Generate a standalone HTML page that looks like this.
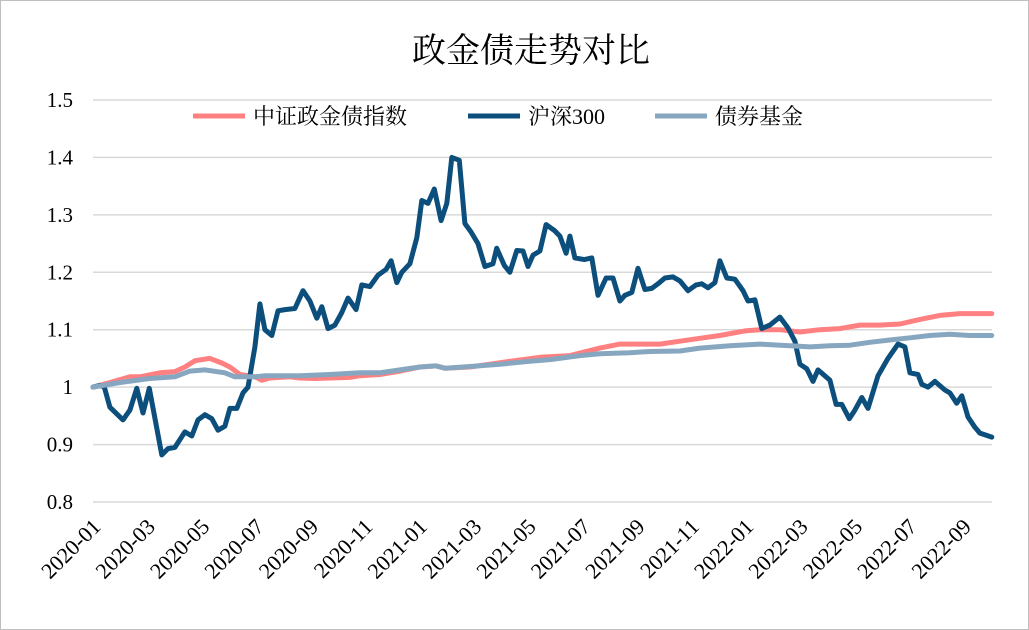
<!DOCTYPE html>
<html><head><meta charset="utf-8"><style>
html,body{margin:0;padding:0;background:#fff}
svg{display:block;font-family:"Liberation Serif","Noto Serif CJK SC",serif}
</style></head><body>
<svg id="c" width="1029" height="630">
<rect x="0.5" y="0.5" width="1028" height="629" fill="#fff" stroke="#bfbfbf"/>
<text x="531" y="62" font-size="34" text-anchor="middle">政金债走势对比</text>
<g id="grid"></g><g id="yt"></g><g id="xt"></g><g id="lines"></g>
<g>
<g><line x1="193" y1="116" x2="245" y2="116" stroke="#ff8080" stroke-width="5"/><text x="253" y="124" font-size="22">中证政金债指数</text></g>
<g><line x1="468" y1="116" x2="520" y2="116" stroke="#0d4f7c" stroke-width="5"/><text x="528" y="124" font-size="22">沪深300</text></g>
<g><line x1="655" y1="116" x2="707" y2="116" stroke="#87a7c0" stroke-width="5"/><text x="715" y="124" font-size="22">债券基金</text></g>
</g>
</svg>
<script>
const yTicks=[0.8,0.9,1,1.1,1.2,1.3,1.4,1.5];
const yTickLabels=["0.8","0.9","1","1.1","1.2","1.3","1.4","1.5"];
const xTickMonths=[0,2,4,6,8,10,12,14,16,18,20,22,24,26,28,30,32];
const xTickLabels=["2020-01","2020-03","2020-05","2020-07","2020-09","2020-11","2021-01","2021-03","2021-05","2021-07","2021-09","2021-11","2022-01","2022-03","2022-05","2022-07","2022-09"];
const csiWeeks=[0,1.1,1.8,2.7,4.8,5.9,7.0,8.0,9.0,11.0,12.0,13.1,14.7,15.8,16.8,17.9,19.0,20.0,21.1,21.9,23.0,24.0,24.8,25.9,26.7,27.5,28.6,29.6,30.7,32.3,33.6,34.7,35.8,36.6,37.6,38.7,39.8,40.8,42.1,43.0,44.3,45.6,46.9,47.7,48.6,49.4,50.7,51.8,52.6,53.6,54.6,55.7,56.6,57.4,58.6,59.5,60.5,61.6,62.7,64.0,64.6,65.8,66.7,67.8,68.8,69.6,70.4,71.5,72.5,73.8,74.7,75.7,76.3,77.1,78.6,79.8,80.8,82.1,83.2,84.3,85.1,86.2,87.2,88.3,89.4,90.4,91.5,92.8,93.9,95.2,96.5,97.4,98.4,99.5,100.3,101.4,102.7,104.0,104.8,105.9,107.0,108.3,109.9,111.2,112.3,113.1,114.2,115.2,116.0,117.9,118.9,119.8,121.0,121.9,123.0,124.0,125.6,127.2,128.8,129.9,130.7,132.0,132.6,133.6,134.7,136.3,137.1,138.2,139.0,140.0,141.1,141.9,143.8];
const csiValues=[1.0,1.003,1.0,0.965,0.943,0.96,0.998,0.955,0.998,0.882,0.893,0.895,0.922,0.915,0.943,0.952,0.945,0.925,0.932,0.963,0.963,0.99,1.0,1.07,1.145,1.1,1.09,1.133,1.135,1.137,1.168,1.15,1.12,1.14,1.102,1.108,1.13,1.155,1.135,1.178,1.175,1.195,1.205,1.22,1.182,1.2,1.215,1.26,1.325,1.32,1.345,1.29,1.32,1.4,1.395,1.285,1.27,1.25,1.21,1.215,1.242,1.212,1.2,1.238,1.237,1.21,1.23,1.237,1.283,1.273,1.263,1.233,1.263,1.225,1.222,1.225,1.16,1.19,1.19,1.15,1.16,1.165,1.207,1.17,1.172,1.18,1.19,1.192,1.185,1.168,1.178,1.18,1.173,1.182,1.22,1.19,1.188,1.168,1.15,1.152,1.102,1.108,1.122,1.103,1.08,1.04,1.032,1.01,1.03,1.012,0.97,0.97,0.945,0.96,0.982,0.963,1.02,1.05,1.075,1.07,1.025,1.022,1.005,1.0,1.01,0.995,0.99,0.972,0.985,0.948,0.93,0.92,0.913];
const bondWeeks=[0,2.7,5.9,7.5,10.7,13.1,14.7,16.3,18.7,20.6,21.9,23.5,25.9,27.0,28.3,31.5,33.1,35.5,37.9,41.1,42.7,45.9,49.1,52.3,54.9,56.3,60.3,63.5,66.7,71.5,76.3,81.1,84.3,87.5,90.7,93.9,97.1,100.3,104.3,106.7,109.9,113.1,116.3,119.5,122.7,125.9,129.1,132.3,135.5,138.7,140.3,143.8];
const bondValues=[1.0,1.008,1.018,1.018,1.025,1.027,1.035,1.046,1.05,1.042,1.035,1.022,1.018,1.012,1.016,1.018,1.016,1.015,1.016,1.017,1.02,1.022,1.028,1.035,1.037,1.033,1.035,1.04,1.045,1.052,1.055,1.068,1.075,1.075,1.075,1.08,1.085,1.09,1.098,1.1,1.1,1.096,1.1,1.102,1.108,1.108,1.11,1.118,1.125,1.128,1.128,1.128];
const fundWeeks=[0,4.3,9.1,13.1,15.5,17.9,21.1,22.7,25.9,27.5,29.9,33.1,37.9,42.7,45.9,49.1,52.3,54.9,56.3,60.3,65.1,69.9,73.1,77.9,81.1,85.9,89.1,93.9,97.1,101.9,106.7,111.5,114.7,117.9,121.1,124.3,127.5,130.7,133.9,137.1,140.3,143.8];
const fundValues=[1.0,1.008,1.015,1.018,1.028,1.03,1.025,1.018,1.018,1.02,1.02,1.02,1.022,1.025,1.025,1.03,1.035,1.037,1.033,1.036,1.04,1.045,1.048,1.055,1.058,1.06,1.062,1.063,1.068,1.072,1.075,1.072,1.07,1.072,1.073,1.078,1.082,1.086,1.09,1.092,1.09,1.09];
const NS='http://www.w3.org/2000/svg';
const yS=v=>502-(v-0.8)*574.3;
const xS=w=>93+w*6.25;
const weeksPerMonth=4.352;
function mk(t,a,p){const e=document.createElementNS(NS,t);for(const k in a)e.setAttribute(k,a[k]);p.appendChild(e);return e;}
const grid=document.getElementById('grid'),yt=document.getElementById('yt'),xt=document.getElementById('xt'),lines=document.getElementById('lines');
yTicks.forEach((v,i)=>{
 const l=mk('line',{x1:93,x2:992,y1:yS(v),y2:yS(v),stroke:'#d9d9d9','stroke-width':1.5},grid);
 
 
 const t=mk('text',{x:73,y:yS(v)+7,'font-size':21,'text-anchor':'end'},yt);
 t.textContent=yTickLabels[i];
 
 
});
xTickMonths.forEach((m,i)=>{
 const x=xS(m*weeksPerMonth)+9;
 const y=528;
 const t=mk('text',{x:x,y:y,'font-size':22,'text-anchor':'end',transform:`rotate(-45 ${x} ${y})`},xt);
 t.textContent=xTickLabels[i];
 
 
});
function series(ws,vs,color,name){
 const d=ws.map((w,i)=>(i?'L':'M')+xS(w).toFixed(1)+' '+yS(vs[i]).toFixed(1)).join(' ');
 const p=mk('path',{d:d,fill:'none',stroke:color,'stroke-width':5,'stroke-linejoin':'round','stroke-linecap':'round'},lines);
 
 
}
series(bondWeeks,bondValues,'#ff8080','bond-index-line');
series(csiWeeks,csiValues,'#0d4f7c','csi300-line');
series(fundWeeks,fundValues,'#87a7c0','bond-fund-line');
</script>
</body></html>
